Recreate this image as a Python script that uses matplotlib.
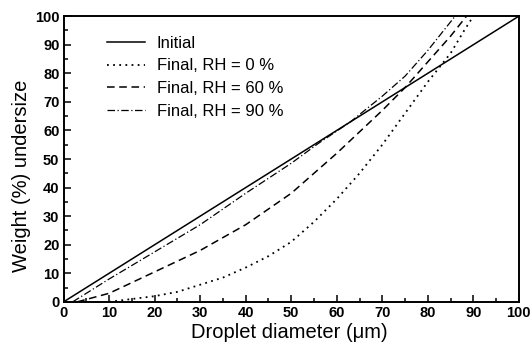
import matplotlib
matplotlib.use("Agg")
import matplotlib.pyplot as plt
from matplotlib.ticker import MultipleLocator

plt.rcParams['font.family'] = ['Liberation Sans', 'DejaVu Sans']

# curve readings (diameter in um, weight % undersize)
x_inicial = [0, 100]
y_inicial = [0, 100]

x_rh0 = [10, 15, 20, 25, 30, 35, 40, 45, 50, 55, 60, 65, 70, 75, 80, 85, 88, 90]
y_rh0 = [0, 1, 2, 3.5, 6, 8.5, 12, 16, 21, 28, 36, 45, 55, 66, 77, 87, 95, 100]

x_rh60 = [3, 10, 20, 30, 40, 50, 60, 70, 75, 80, 85, 88.5]
y_rh60 = [0, 3, 10.5, 18, 27, 38, 52, 67, 75, 84, 93, 100]

x_rh90 = [2, 10, 20, 30, 40, 50, 56, 63, 70, 75, 80, 84, 86]
y_rh90 = [0, 8, 17.5, 27, 38, 48.5, 55.5, 63, 72, 79, 88, 96, 100]

etiquetas = ['Initial', 'Final, RH = 0 %', 'Final, RH = 60 %', 'Final, RH = 90 %']

fig = plt.figure(figsize=(5.30, 3.51), dpi=100)
ax = fig.add_axes([0.120, 0.140, 0.859, 0.814])

ax.plot(x_inicial, y_inicial, '-', color='black', lw=1.1, label=etiquetas[0])
ax.plot(x_rh0, y_rh0, color='black', lw=1.3, linestyle=(0, (1, 2.4)), label=etiquetas[1])
ax.plot(x_rh60, y_rh60, color='black', lw=1.1, linestyle=(0, (5, 3)), label=etiquetas[2])
ax.plot(x_rh90, y_rh90, color='black', lw=0.9, linestyle=(0, (6, 2, 1, 2)), label=etiquetas[3])

ax.set_xlim(0, 100)
ax.set_ylim(0, 100)
ax.xaxis.set_major_locator(MultipleLocator(10))
ax.yaxis.set_major_locator(MultipleLocator(10))
ax.xaxis.set_minor_locator(MultipleLocator(5))
ax.yaxis.set_minor_locator(MultipleLocator(5))
ax.tick_params(which='both', direction='in', width=1.1)
ax.tick_params(which='major', length=5, labelsize=10.5, pad=3)
ax.tick_params(which='minor', length=3)
for lbl in ax.get_xticklabels() + ax.get_yticklabels():
    lbl.set_fontweight('bold')
for s in ax.spines.values():
    s.set_linewidth(1.4)

ax.set_xlabel('Droplet diameter (\u03bcm)', fontsize=14.5)
ax.set_ylabel('Weight (%) undersize', fontsize=14.5)
ax.xaxis.set_label_coords(0.495, -0.108)
ax.yaxis.set_label_coords(-0.093, 0.44)
ax.xaxis.label.set_va('center')
ax.yaxis.label.set_va('center')

ax.legend(loc='upper left', bbox_to_anchor=(0.095, 0.932), frameon=False,
          fontsize=12, handlelength=2.3, handletextpad=0.7, labelspacing=0.47,
          borderpad=0, borderaxespad=0)

fig.savefig('out.png', dpi=100)
